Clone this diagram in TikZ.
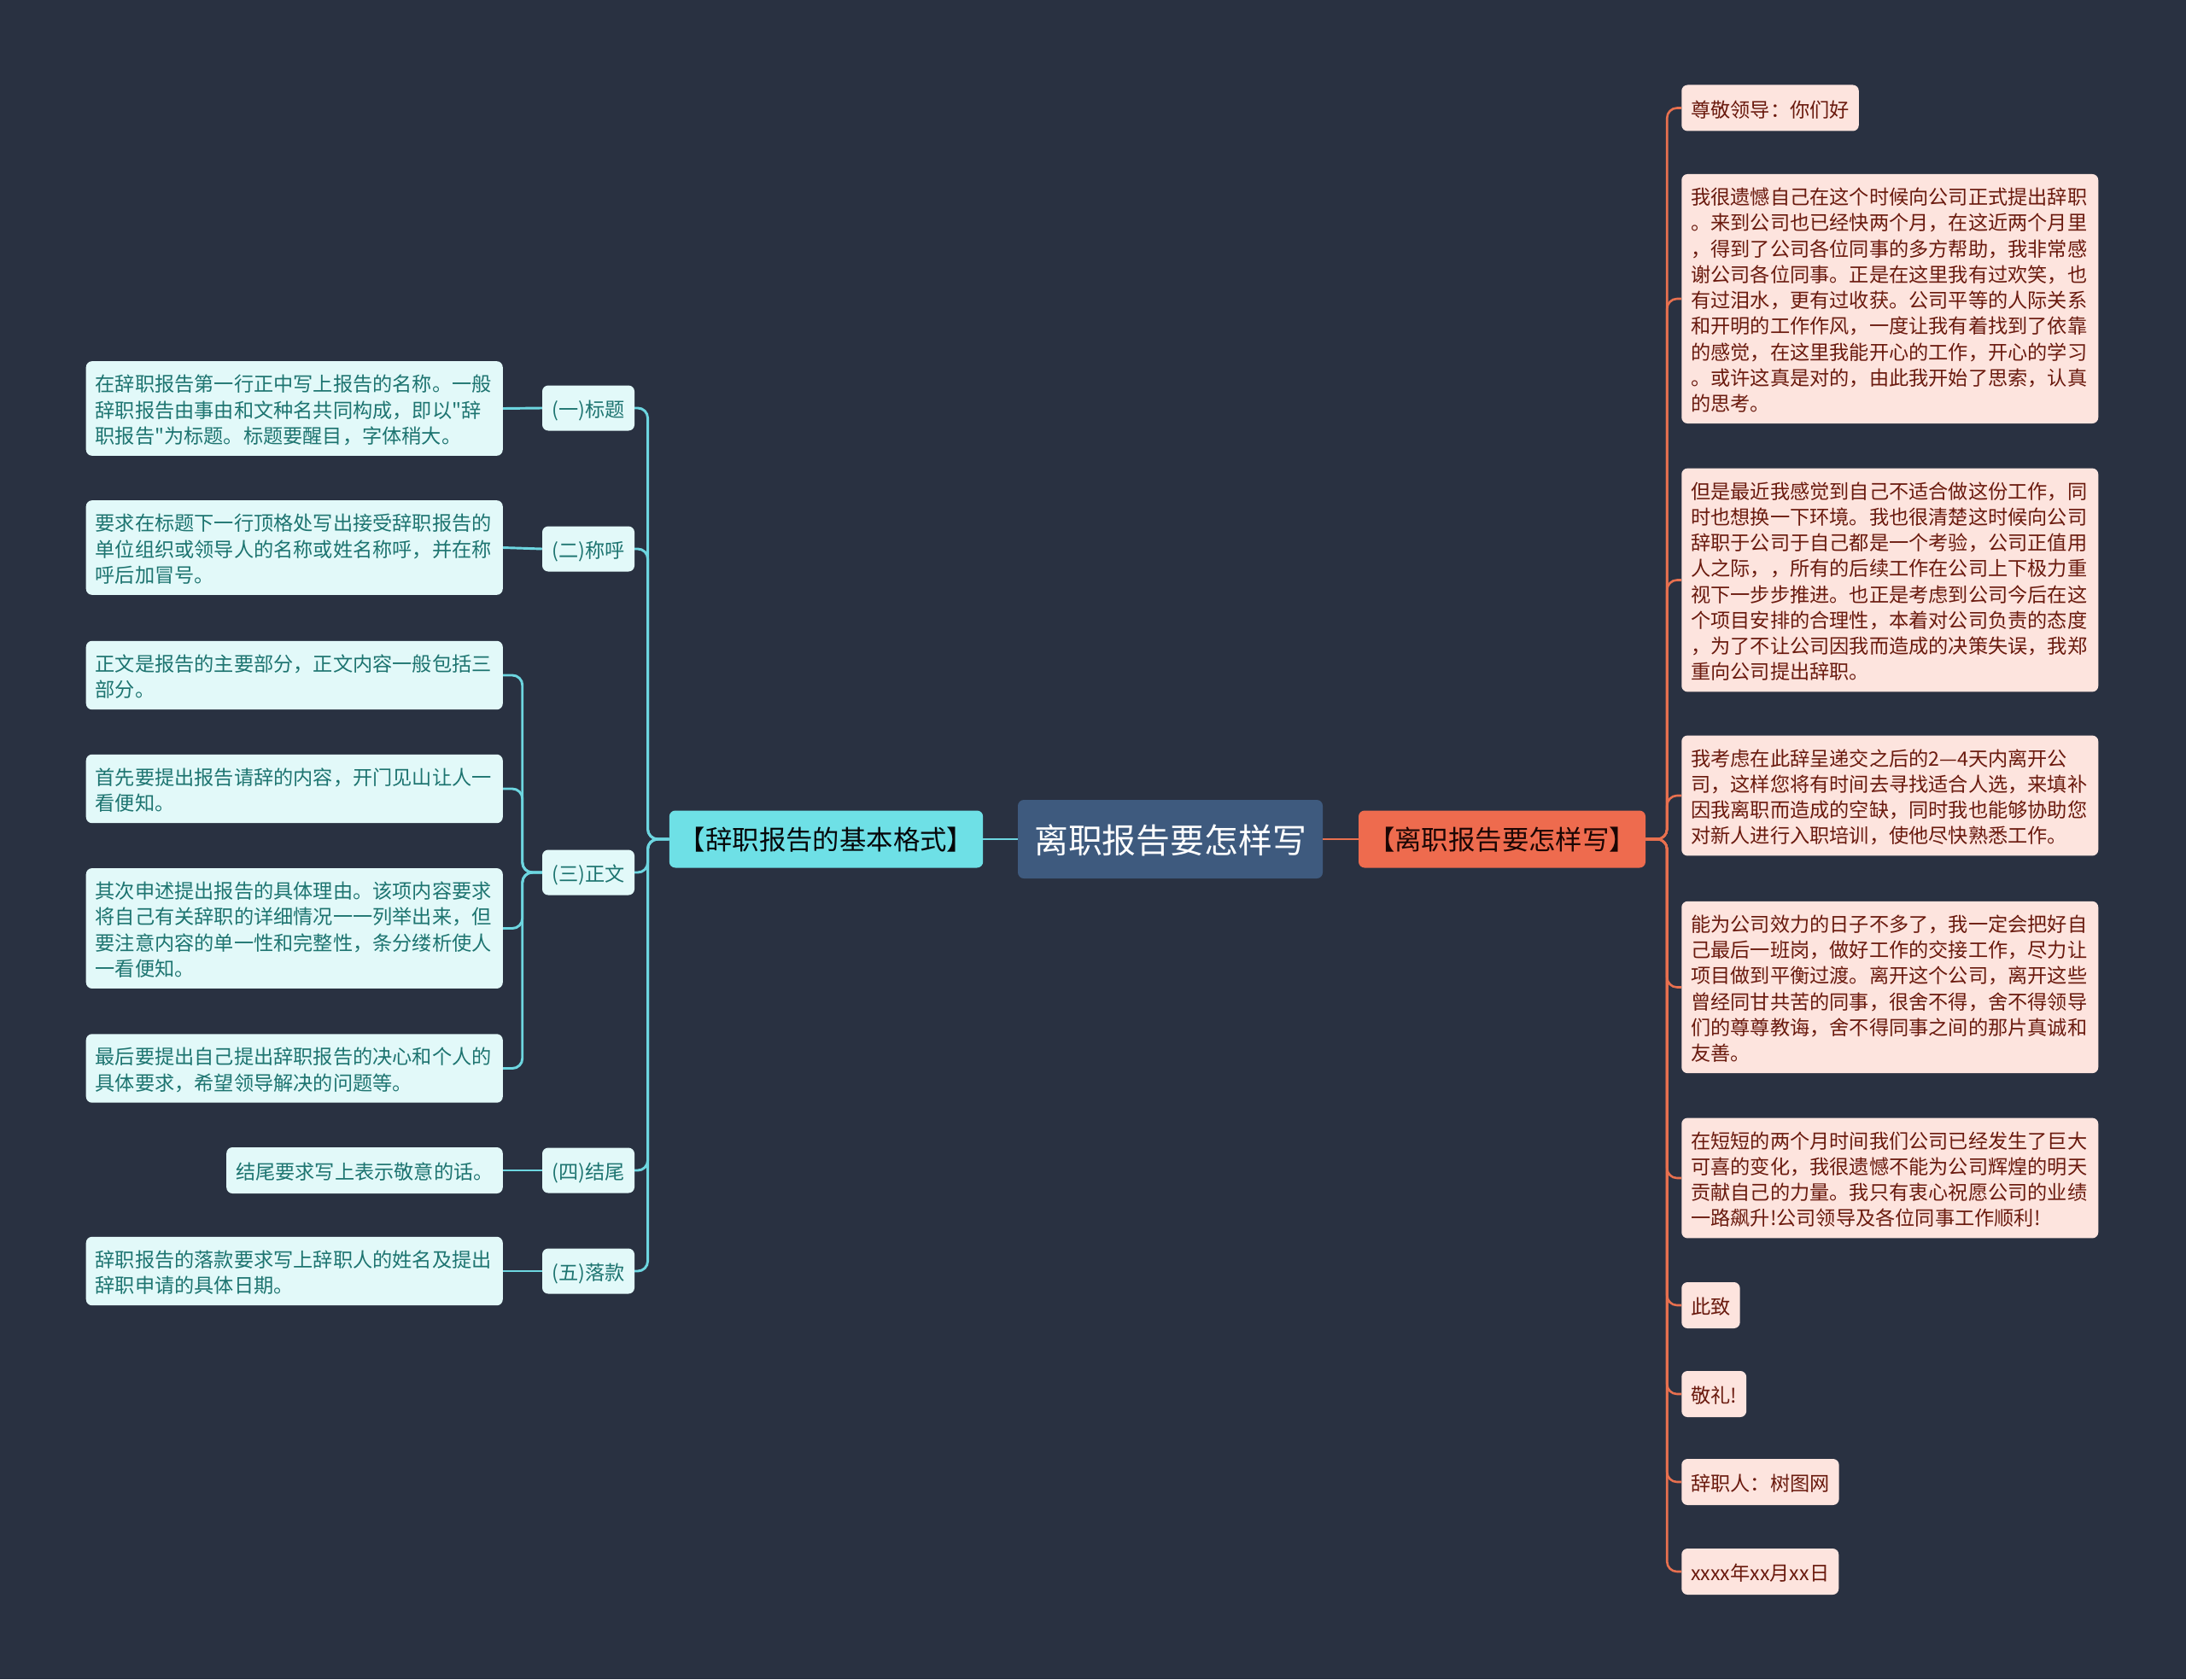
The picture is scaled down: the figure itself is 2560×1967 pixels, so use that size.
\documentclass[tikz,border=0pt]{standalone}
\usepackage{fontspec}
\newfontfamily\cjk{Noto Sans CJK SC}

\definecolor{bgnavy}{HTML}{293141}
\definecolor{rootblue}{HTML}{3E5A7E}
\definecolor{cyanfill}{HTML}{6EE0E6}
\definecolor{cyanpale}{HTML}{E2F9F9}
\definecolor{cyanline}{HTML}{6DD6E0}
\definecolor{tealtext}{HTML}{1D7470}
\definecolor{redfill}{HTML}{EE6B4E}
\definecolor{redpale}{HTML}{FDE4DE}
\definecolor{redline}{HTML}{E8704F}
\definecolor{redtext}{HTML}{6A1A0E}

\newcommand{\boxstrut}{\rule[-0.15\baselineskip]{0pt}{\baselineskip}}

\tikzset{
  box/.style={rounded corners=6pt, inner xsep=0.33cm, inner ysep=0.3cm,
    execute at begin node=\boxstrut, execute at end node=\boxstrut},
  leaffont/.style={font=\fontsize{19.8pt}{25.8pt}\cjk},
  rootbox/.style={box, fill=rootblue, text=white, font=\fontsize{34pt}{40pt}\cjk,
    minimum width=10.71cm, minimum height=2.76cm},
  lbranch/.style={box, fill=cyanfill, text=black!85!bgnavy, font=\fontsize{26.8pt}{31pt}\cjk,
    minimum width=10.71cm, minimum height=2.01cm},
  rbranch/.style={box, fill=redfill, text=black!75!redtext, font=\fontsize{26.8pt}{31pt}\cjk,
    minimum width=9.84cm, minimum height=2.01cm},
  ltopic/.style={box, leaffont, fill=cyanpale, text=tealtext,
    minimum width=3.24cm, minimum height=1.59cm},
  lleaf/.style={box, leaffont, fill=cyanpale, text=tealtext, align=left,
    minimum height=1.62cm, anchor=east},
  lwide/.style={lleaf, text width=13.98cm},
  rleaf/.style={box, leaffont, fill=redpale, text=redtext, align=left,
    minimum height=1.62cm, anchor=west},
  rwide/.style={rleaf, text width=13.98cm},
  cyanlink/.style={draw=cyanline, line width=2.5pt, rounded corners=10pt},
  redlink/.style={draw=redline, line width=2.2pt, rounded corners=10pt}
}

\begin{document}
\begin{tikzpicture}[x=0.03cm, y=-0.03cm]
  \fill[bgnavy] (0,0) rectangle (2560,1967);
  \useasboundingbox (0,0) rectangle (2560,1967);

  % centre and the two branches
  \node[rootbox] (c) at (1370.5,983) {离职报告要怎样写};
  \node[lbranch] (lb) at (967.5,983) {【辞职报告的基本格式】};
  \node[rbranch] (rb) at (1759,983) {【离职报告要怎样写】};

  % left topics
  \node[ltopic] (m1) at (689,478) {(一)标题};
  \node[ltopic] (m2) at (689,643) {(二)称呼};
  \node[ltopic] (m3) at (689,1022) {(三)正文};
  \node[ltopic] (m4) at (689,1371) {(四)结尾};
  \node[ltopic] (m5) at (689,1489) {(五)落款};

  % left leaves
  \node[lwide] (l1) at (589,478.5) {在辞职报告第一行正中写上报告的名称。一般\\辞职报告由事由和文种名共同构成，即以"辞\\职报告"为标题。标题要醒目，字体稍大。};
  \node[lwide] (l2) at (589,641.5) {要求在标题下一行顶格处写出接受辞职报告的\\单位组织或领导人的名称或姓名称呼，并在称\\呼后加冒号。};
  \node[lwide] (l3) at (589,791) {正文是报告的主要部分，正文内容一般包括三\\部分。};
  \node[lwide] (l4) at (589,924) {首先要提出报告请辞的内容，开门见山让人一\\看便知。};
  \node[lwide] (l5) at (589,1087.5) {其次申述提出报告的具体理由。该项内容要求\\将自己有关辞职的详细情况一一列举出来，但\\要注意内容的单一性和完整性，条分缕析使人\\一看便知。};
  \node[lwide] (l6) at (589,1251.5) {最后要提出自己提出辞职报告的决心和个人的\\具体要求，希望领导解决的问题等。};
  \node[lleaf] (l7) at (589,1371) {结尾要求写上表示敬意的话。};
  \node[lwide] (l8) at (589,1489) {辞职报告的落款要求写上辞职人的姓名及提出\\辞职申请的具体日期。};

  % right leaves
  \node[rleaf] (r1) at (1969,126.5) {尊敬领导：你们好};
  \node[rwide] (r2) at (1969,350) {我很遗憾自己在这个时候向公司正式提出辞职\\。来到公司也已经快两个月，在这近两个月里\\，得到了公司各位同事的多方帮助，我非常感\\谢公司各位同事。正是在这里我有过欢笑，也\\有过泪水，更有过收获。公司平等的人际关系\\和开明的工作作风，一度让我有着找到了依靠\\的感觉，在这里我能开心的工作，开心的学习\\。或许这真是对的，由此我开始了思索，认真\\的思考。};
  \node[rwide] (r3) at (1969,679.5) {但是最近我感觉到自己不适合做这份工作，同\\时也想换一下环境。我也很清楚这时候向公司\\辞职于公司于自己都是一个考验，公司正值用\\人之际，，所有的后续工作在公司上下极力重\\视下一步步推进。也正是考虑到公司今后在这\\个项目安排的合理性，本着对公司负责的态度\\，为了不让公司因我而造成的决策失误，我郑\\重向公司提出辞职。};
  \node[rwide] (r4) at (1969,932) {我考虑在此辞呈递交之后的2—4天内离开公\\司，这样您将有时间去寻找适合人选，来填补\\因我离职而造成的空缺，同时我也能够协助您\\对新人进行入职培训，使他尽快熟悉工作。};
  \node[rwide] (r5) at (1969,1156.5) {能为公司效力的日子不多了，我一定会把好自\\己最后一班岗，做好工作的交接工作，尽力让\\项目做到平衡过渡。离开这个公司，离开这些\\曾经同甘共苦的同事，很舍不得，舍不得领导\\们的尊尊教诲，舍不得同事之间的那片真诚和\\友善。};
  \node[rwide] (r6) at (1969,1380) {在短短的两个月时间我们公司已经发生了巨大\\可喜的变化，我很遗憾不能为公司辉煌的明天\\贡献自己的力量。我只有衷心祝愿公司的业绩\\一路飙升!公司领导及各位同事工作顺利!};
  \node[rleaf] (r7) at (1969,1529) {此致};
  \node[rleaf] (r8) at (1969,1633) {敬礼!};
  \node[rleaf] (r9) at (1969,1736) {辞职人：树图网};
  \node[rleaf] (r10) at (1969,1841) {xxxx年xx月xx日};

  % connectors
  \draw[cyanlink] (c.west) -- (lb.east);
  \draw[redlink] (c.east) -- (rb.west);
  \foreach \i in {1,...,5}
    \draw[cyanlink] (lb.west) -- ++(-25,0) |- (m\i.east);
  \draw[cyanlink] (m1.west) -- (l1.east);
  \draw[cyanlink] (m2.west) -- (l2.east);
  \foreach \i in {3,...,6}
    \draw[cyanlink] (m3.west) -- ++(-23,0) |- (l\i.east);
  \draw[cyanlink] (m4.west) -- (l7.east);
  \draw[cyanlink] (m5.west) -- (l8.east);
  \foreach \i in {1,...,10}
    \draw[redlink] (rb.east) -- ++(25,0) |- (r\i.west);
\end{tikzpicture}
\end{document}
